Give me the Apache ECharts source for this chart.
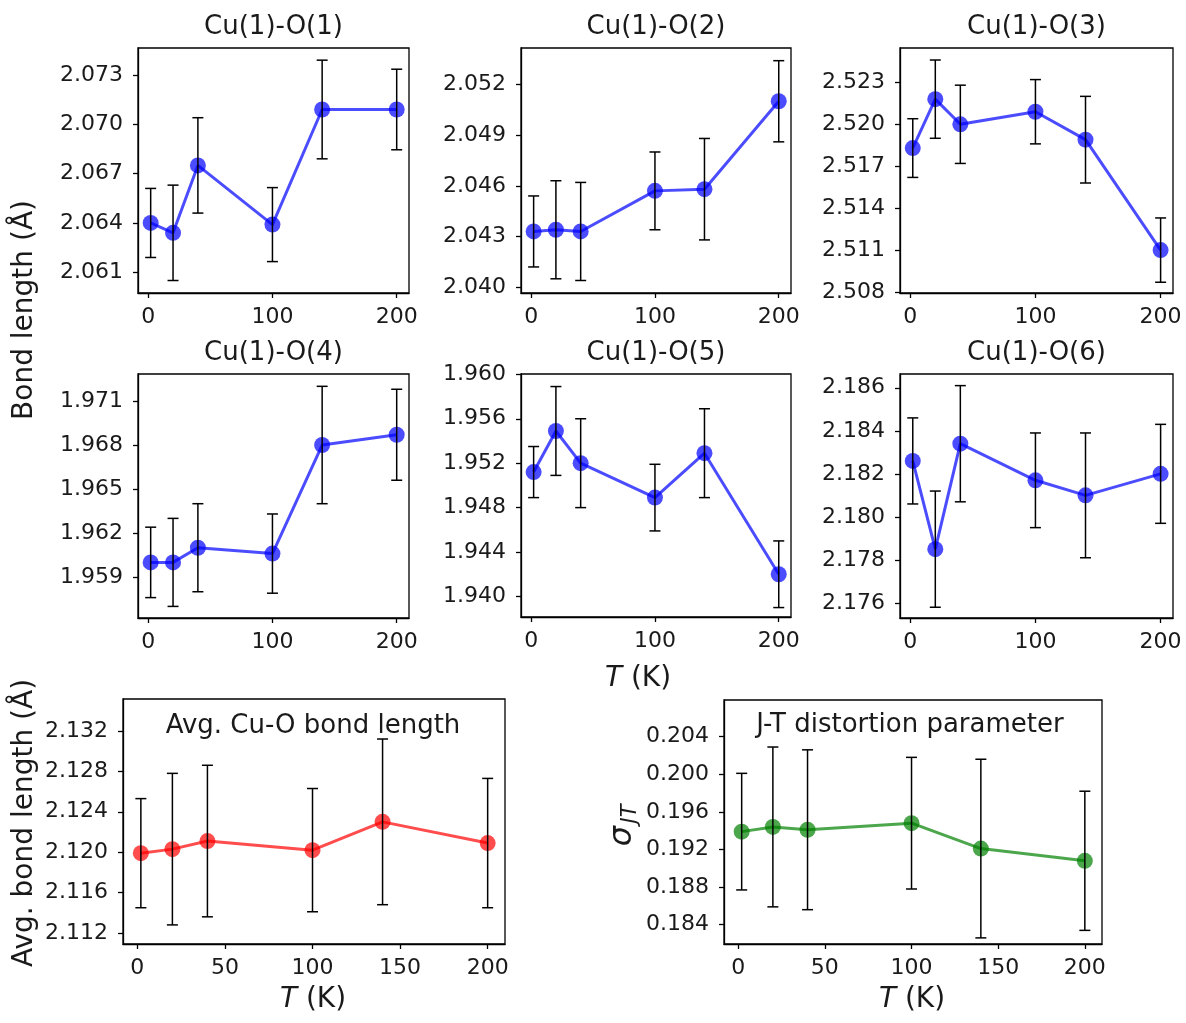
<!DOCTYPE html>
<html><head><meta charset="utf-8">
<script src="https://cdn.jsdelivr.net/npm/echarts@6/dist/echarts.min.js"></script>
<style>html,body{margin:0;padding:0;background:#fff}#c{width:1186px;height:1023px}</style>
</head><body><div id="c"></div>
<script>
// ---- data ----
const T = [2, 20, 40, 100, 140, 200];
const titles = ['Cu(1)-O(1)', 'Cu(1)-O(2)', 'Cu(1)-O(3)', 'Cu(1)-O(4)', 'Cu(1)-O(5)', 'Cu(1)-O(6)'];
const o1 = [2.0640, 2.0634, 2.0675, 2.0639, 2.0709, 2.0709];
const o1Err = [0.0021, 0.0029, 0.0029, 0.00225, 0.0030, 0.00245];
const o2 = [2.0433, 2.0434, 2.0433, 2.0457, 2.0458, 2.0510];
const o2Err = [0.0021, 0.0029, 0.0029, 0.0023, 0.0030, 0.0024];
const o3 = [2.5183, 2.5218, 2.5200, 2.5209, 2.5189, 2.5110];
const o3Err = [0.0021, 0.0028, 0.0028, 0.0023, 0.0031, 0.0023];
const o4 = [1.9600, 1.9600, 1.9610, 1.9606, 1.9680, 1.9687];
const o4Err = [0.0024, 0.0030, 0.0030, 0.0027, 0.0040, 0.0031];
const o5 = [1.9512, 1.9549, 1.9520, 1.9489, 1.9529, 1.9420];
const o5Err = [0.0023, 0.0040, 0.0040, 0.0030, 0.0040, 0.0030];
const o6 = [2.1826, 2.1785, 2.1834, 2.1817, 2.1810, 2.1820];
const o6Err = [0.0020, 0.0027, 0.0027, 0.0022, 0.0029, 0.0023];
const avg = [2.1199, 2.1203, 2.1211, 2.1202, 2.1230, 2.1209];
const avgErr = [0.0054, 0.0075, 0.0075, 0.0061, 0.0082, 0.0064];
const jt = [0.1939, 0.1944, 0.1941, 0.1948, 0.1921, 0.1908];
const jtErr = [0.0062, 0.0085, 0.0085, 0.0070, 0.0095, 0.0074];
// tick labels
const yTicks1 = [2.061, 2.064, 2.067, 2.070, 2.073];
const yTicks2 = [2.040, 2.043, 2.046, 2.049, 2.052];
const yTicks3 = [2.508, 2.511, 2.514, 2.517, 2.520, 2.523];
const yTicks4 = [1.959, 1.962, 1.965, 1.968, 1.971];
const yTicks5 = [1.940, 1.944, 1.948, 1.952, 1.956, 1.960];
const yTicks6 = [2.176, 2.178, 2.180, 2.182, 2.184, 2.186];
const yTicks7 = [2.112, 2.116, 2.120, 2.124, 2.128, 2.132];
const yTicks8 = [0.184, 0.188, 0.192, 0.196, 0.200, 0.204];
const xTicksTop = [0, 100, 200];
const xTicksBottom = [0, 50, 100, 150, 200];

// ---- layout ----
const panels = [
  {grid:{left:138, top:48, width:271, height:245}, y:o1, e:o1Err, yr:[2.05974, 2.07464], yt:yTicks1, xt:xTicksTop, c:'0,0,255'},
  {grid:{left:521, top:48, width:270, height:245}, y:o2, e:o2Err, yr:[2.03966, 2.05415], yt:yTicks2, xt:xTicksTop, c:'0,0,255'},
  {grid:{left:900, top:48, width:273, height:245}, y:o3, e:o3Err, yr:[2.50793, 2.52546], yt:yTicks3, xt:xTicksTop, c:'0,0,255'},
  {grid:{left:138, top:374, width:271, height:244}, y:o4, e:o4Err, yr:[1.95621, 1.97284], yt:yTicks4, xt:xTicksTop, c:'0,0,255'},
  {grid:{left:521, top:374, width:270, height:243}, y:o5, e:o5Err, yr:[1.93815, 1.96003], yt:yTicks5, xt:xTicksTop, c:'0,0,255'},
  {grid:{left:900, top:374, width:273, height:244}, y:o6, e:o6Err, yr:[2.17530, 2.18664], yt:yTicks6, xt:xTicksTop, c:'0,0,255'},
  {grid:{left:123, top:699, width:382, height:245}, y:avg, e:avgErr, yr:[2.11091, 2.13516], yt:yTicks7, xt:xTicksBottom, c:'255,0,0'},
  {grid:{left:724, top:700, width:378, height:244}, y:jt, e:jtErr, yr:[0.18195, 0.20790], yt:yTicks8, xt:xTicksBottom, c:'0,128,0'}
];
const XMIN = -8.2, XMAX = 209.9;
const FONT = 'DejaVu Sans';
const TXT = '#1a1a1a';

const grids = [], xAxes = [], yAxes = [], series = [], graphics = [];
panels.forEach((p, i) => {
  grids.push(Object.assign({show:true, borderColor:'#000', borderWidth:1.3, backgroundColor:'transparent'}, p.grid));
  const axCommon = {
    gridIndex:i, type:'value', splitLine:{show:false},
    axisLine:{show:true, onZero:false, lineStyle:{color:'#000', width:1.3}},
    axisTick:{show:true, inside:false, length:5, lineStyle:{color:'#000', width:1.3}},
  };
  xAxes.push(Object.assign({}, axCommon, {
    min:XMIN, max:XMAX,
    axisTick:Object.assign({}, axCommon.axisTick, {customValues:p.xt}),
    axisLabel:{customValues:p.xt, fontFamily:FONT, fontSize:22, color:TXT, margin:13, formatter:v=>String(v)}
  }));
  yAxes.push(Object.assign({}, axCommon, {
    min:p.yr[0], max:p.yr[1],
    axisTick:Object.assign({}, axCommon.axisTick, {customValues:p.yt}),
    axisLabel:{customValues:p.yt, fontFamily:FONT, fontSize:22, color:TXT, margin:15, formatter:v=>v.toFixed(3)}
  }));
  series.push({
    type:'line', xAxisIndex:i, yAxisIndex:i, z:2,
    data:T.map((t,k)=>[t, p.y[k]]),
    symbol:'circle', symbolSize:16, showSymbol:true,
    lineStyle:{color:'rgba('+p.c+',0.7)', width:3},
    itemStyle:{color:'rgba('+p.c+',0.7)'},
    emphasis:{disabled:true}, animation:false
  });
  series.push({
    type:'custom', xAxisIndex:i, yAxisIndex:i, z:3,
    data:T.map((t,k)=>[t, p.y[k]-p.e[k], p.y[k]+p.e[k]]),
    encode:{x:0, y:[1,2]},
    renderItem:(params, api)=>{
      const x = api.value(0);
      const lo = api.coord([x, api.value(1)]);
      const hi = api.coord([x, api.value(2)]);
      const cw = 5.5, st = {stroke:'#000', lineWidth:1.5};
      return {type:'group', children:[
        {type:'line', shape:{x1:lo[0], y1:lo[1], x2:hi[0], y2:hi[1]}, style:st},
        {type:'line', shape:{x1:lo[0]-cw, y1:lo[1], x2:lo[0]+cw, y2:lo[1]}, style:st},
        {type:'line', shape:{x1:hi[0]-cw, y1:hi[1], x2:hi[0]+cw, y2:hi[1]}, style:st}
      ]};
    },
    animation:false
  });
  if (i < 6) {
    graphics.push({type:'text', x:p.grid.left + p.grid.width/2, y:p.grid.top - 21,
      style:{text:titles[i], font:'26px '+FONT, fill:TXT, textAlign:'center', textVerticalAlign:'middle'}});
  }
});
// axis titles / annotations
graphics.push({type:'text', x:25, y:310, rotation:Math.PI/2,
  style:{text:'Bond length (Å)', font:'28px '+FONT, fill:TXT, textAlign:'center', textVerticalAlign:'middle'}});
graphics.push({type:'text', x:638, y:679,
  style:{text:'{i|T} (K)', font:'28px '+FONT, fill:TXT, textAlign:'center', textVerticalAlign:'middle',
    rich:{i:{fontStyle:'italic', fontFamily:FONT, fontSize:28, fill:TXT}}}});
graphics.push({type:'text', x:25, y:823, rotation:Math.PI/2,
  style:{text:'Avg. bond length (Å)', font:'28px '+FONT, fill:TXT, textAlign:'center', textVerticalAlign:'middle'}});
graphics.push({type:'text', x:313, y:1000,
  style:{text:'{i|T} (K)', font:'28px '+FONT, fill:TXT, textAlign:'center', textVerticalAlign:'middle',
    rich:{i:{fontStyle:'italic', fontFamily:FONT, fontSize:28, fill:TXT}}}});
graphics.push({type:'text', x:912, y:1000,
  style:{text:'{i|T} (K)', font:'28px '+FONT, fill:TXT, textAlign:'center', textVerticalAlign:'middle',
    rich:{i:{fontStyle:'italic', fontFamily:FONT, fontSize:28, fill:TXT}}}});
graphics.push({type:'text', x:313, y:726,
  style:{text:'Avg. Cu-O bond length', font:'26px '+FONT, fill:TXT, textAlign:'center', textVerticalAlign:'middle'}});
graphics.push({type:'text', x:910, y:725,
  style:{text:'J-T distortion parameter', font:'26px '+FONT, fill:TXT, textAlign:'center', textVerticalAlign:'middle'}});
graphics.push({type:'text', x:623, y:836, rotation:Math.PI/2,
  style:{text:'σ', font:'italic 32px '+FONT, fill:TXT, textAlign:'center', textVerticalAlign:'middle'}});
graphics.push({type:'text', x:631, y:814, rotation:Math.PI/2,
  style:{text:'JT', font:'italic 21px '+FONT, fill:TXT, textAlign:'center', textVerticalAlign:'middle'}});

const chart = echarts.init(document.getElementById('c'), null, {renderer:'canvas'});
chart.setOption({
  animation:false, backgroundColor:'#fff',
  grid:grids, xAxis:xAxes, yAxis:yAxes, series:series, graphic:graphics
});
</script></body></html>
